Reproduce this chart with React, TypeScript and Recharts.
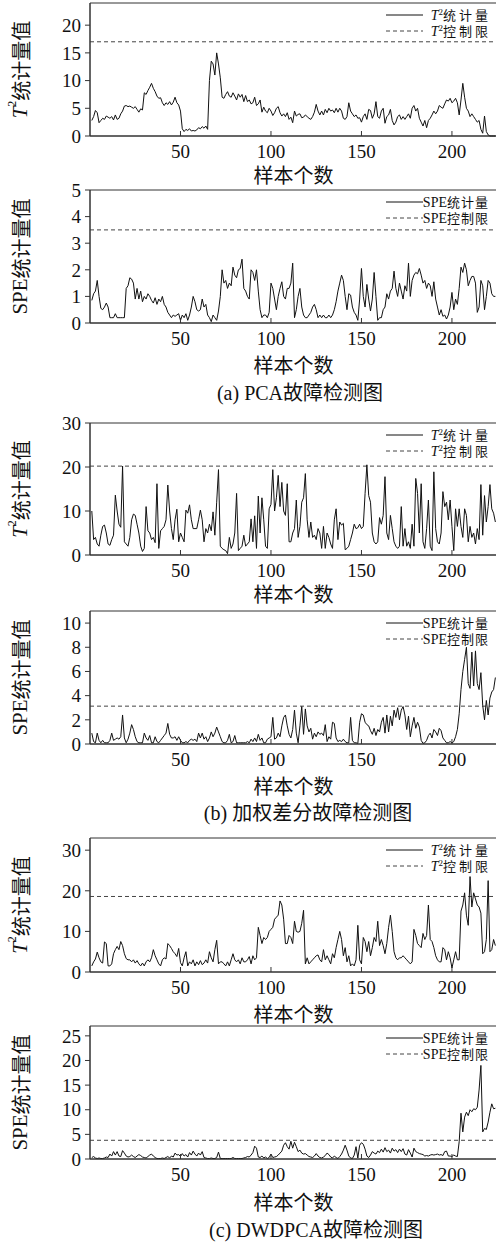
import React from "react";
import { LineChart, Line, XAxis, YAxis, ReferenceLine, ReferenceArea } from "recharts";

// sample index 1..224
const samples = Array.from({ length: 224 }, (_, i) => i + 1);
const xTicks = [50, 100, 150, 200];

// (a) PCA
const t2Pca = [
  2.8, 3.5, 4.6, 4.2, 2.4, 2.8, 3.2, 3.0, 3.6, 3.4,
  3.2, 3.5, 2.9, 3.8, 3.0, 3.2, 4.0, 4.5, 5.4, 5.5,
  5.3, 5.4, 5.2, 5.0, 5.3, 4.8, 4.3, 4.9, 4.7, 7.8,
  7.5, 8.2, 8.8, 9.5, 8.6, 8.0, 7.2, 6.8, 6.9, 6.0,
  5.5, 6.0, 5.7, 6.2, 5.6, 6.1, 7.0, 6.0, 5.6, 4.5,
  1.3, 0.8, 1.2, 1.0, 1.3, 0.9, 1.0, 0.9, 1.1, 1.5,
  1.3, 1.7, 1.4, 1.8, 1.2, 10.0, 13.5, 13.0, 11.0, 15.0,
  13.0, 10.5, 7.0, 6.8, 7.5, 8.0, 7.2, 7.0, 7.8, 7.2,
  6.5, 7.6, 7.0, 7.5, 6.2, 7.3, 6.2, 6.5, 5.8, 6.0,
  7.0, 5.5, 5.8, 6.5, 4.3, 5.2, 4.5, 4.2, 5.0, 4.5,
  3.7, 4.2, 5.0, 5.3, 4.2, 3.6, 4.0, 3.5, 4.2, 3.0,
  3.4, 2.4, 4.5, 3.6, 3.9, 4.0, 3.3, 3.4, 3.8, 3.5,
  3.2, 3.0, 3.5, 4.3, 5.7, 4.5, 3.8, 4.5, 3.8, 4.8,
  4.2, 5.0, 4.5, 4.7, 4.2, 5.0, 4.3, 5.0, 4.5, 3.2,
  3.0, 3.5, 6.0, 4.5, 4.0, 3.5, 3.8, 3.2, 3.3, 2.5,
  3.5, 4.0, 3.0, 4.8, 4.6, 3.2, 4.0, 6.2, 3.5, 3.2,
  4.5, 5.0, 2.3, 3.5, 3.8, 4.8, 2.8, 2.0, 2.5, 3.5,
  3.8, 3.0, 3.5, 3.0, 3.5, 4.0, 3.2, 5.0, 5.5, 4.5,
  5.0, 3.2, 2.5, 1.8, 2.8, 1.5, 2.8, 3.2, 3.8, 4.5,
  4.0, 4.5, 5.5, 5.2, 5.0, 5.8, 6.5, 6.3, 6.8, 6.0,
  6.3, 6.8, 6.0, 3.8, 6.5, 9.5, 7.0, 5.0, 4.5, 3.5,
  4.0, 3.5, 3.0, 2.5, 2.8, 1.2, 0.5, 3.6, 0.8, 0.2,
  0.0, 0.0, 0.0, 0.0,
];
const spePca = [
  0.85, 1.1, 1.2, 1.6, 1.0, 0.55, 0.5, 0.6, 0.75, 0.6,
  0.2, 0.2, 0.2, 0.35, 0.2, 0.2, 0.2, 0.2, 0.2, 1.3,
  1.4, 1.7, 1.65, 1.5, 0.9, 1.3, 0.9, 1.2, 0.8, 1.0,
  0.9, 1.1, 1.0, 0.85, 0.75, 0.95, 0.7, 0.9, 0.8, 1.0,
  0.7, 0.6, 0.4, 0.3, 0.2, 0.3, 0.25, 0.3, 0.35, 0.1,
  0.3, 0.2, 0.35, 0.1, 0.3, 0.6, 1.0, 0.8, 0.5, 0.45,
  0.5, 0.9, 0.6, 0.7, 0.3, 0.2, 0.05, 0.3, 0.2, 0.1,
  0.45, 1.0, 2.0, 1.5, 1.6, 1.3, 1.5, 1.4, 2.1, 1.8,
  1.7, 2.0, 2.05, 2.4, 1.3, 1.2, 1.0, 0.9, 2.0, 1.9,
  1.6, 2.0, 1.2, 0.5, 0.2, 0.3, 0.3, 0.2, 0.4, 1.5,
  1.3, 0.9, 0.5, 1.0, 1.3, 1.55, 1.0, 0.9, 1.3, 1.3,
  1.5, 2.25, 0.2, 0.5, 1.0, 1.3, 0.6, 0.3, 0.2, 0.2,
  0.3, 0.4, 0.6, 0.7, 0.5, 0.2, 0.3, 0.2, 0.3, 0.2,
  0.2, 0.3, 0.2, 0.3, 0.5, 0.8, 1.2, 1.5, 1.8, 1.6,
  1.0, 0.5, 1.1, 1.05, 0.6, 0.4, 0.3, 0.1, 0.9, 2.05,
  1.0, 0.6, 1.45, 0.9, 0.45, 0.9, 1.9, 1.0, 0.1, 0.2,
  0.2, 0.5, 0.6, 1.1, 0.9, 1.2, 1.3, 1.95, 1.3, 1.0,
  1.5, 1.2, 0.9, 1.4, 1.2, 2.25, 1.0, 1.6, 1.8, 1.9,
  1.85, 2.05, 1.8, 1.5, 1.6, 1.3, 1.5, 1.4, 1.0, 1.55,
  0.9, 0.6, 0.3, 0.5, 0.25, 0.3, 0.15, 0.3, 0.6, 1.15,
  0.5, 0.9, 0.7, 1.3, 2.1, 1.9, 2.25, 2.0, 1.4, 1.6,
  1.75, 1.75, 1.5, 0.4, 0.6, 1.6, 1.4, 0.5, 1.0, 1.6,
  1.5, 1.1, 1.0, 1.0,
];

// (b) weighted difference
const t2Wd = [
  10, 3.5, 4, 2.5, 2, 4.5, 6.5, 6.8, 5, 2.5,
  2.2, 3.5, 4.5, 13.6, 10, 7, 6.3, 20.2, 3, 2.5,
  2, 4, 8, 9.3, 9, 7, 5, 2, 0.8, 1.5,
  11, 5.5, 5, 3.5, 4, 2.8, 16.2, 1.5, 5.5, 6,
  6.5, 8, 15.9, 10, 6, 3.5, 8, 10.4, 3, 5,
  4, 3, 10.2, 9.5, 11.4, 8, 6, 6, 6, 8,
  10.2, 8, 3, 6, 5, 7, 5.5, 9.8, 4.5, 12,
  19.4, 2, 1.5, 1.2, 1.0, 0.3, 4, 1.5, 2.5, 5,
  14, 1, 1.5, 2, 4.5, 2, 2.5, 3, 8.2, 3,
  8.9, 1.5, 13.4, 5, 13, 8, 2, 1.5, 10.5, 11.5,
  19.4, 10, 13, 18.1, 11, 16.5, 10, 9, 16.2, 3,
  3, 5, 6, 12.5, 4, 6.5, 12, 13, 18.5, 8,
  4, 7.5, 4, 4.5, 3.5, 6, 5, 1.5, 6.5, 1.5,
  5, 4, 2.5, 1.5, 8, 10.5, 3.5, 7.5, 6.8, 7.2,
  1.2, 1.5, 2, 3.5, 5, 7, 6, 6.2, 7, 6,
  6.5, 14, 20.5, 13.5, 12, 5, 3, 2.5, 3, 8.5,
  7, 9, 17.8, 5, 3.5, 9, 6, 3, 2, 1.5,
  2, 11, 2, 6, 2, 3, 1.5, 7, 2, 17.4,
  14, 5, 16.2, 3, 1.5, 6, 12.5, 2, 1, 18.9,
  6, 3, 2.5, 5, 14.4, 11, 12, 8, 12.5, 6.5,
  1, 10.5, 6.5, 10.5, 6.5, 4, 10.5, 9, 3, 6.5,
  4, 5, 2.5, 6, 3.5, 16, 4.5, 13.5, 7.5, 11,
  16, 10.5, 9.5, 7.5,
];
const speWd = [
  0.9, 0.2, 0.1, 0.9, 0.3, 0.1, 0.3, 0.1, 0.1, 0.1,
  0.3, 0.9, 0.3, 0.4, 0.5, 0.4, 0.6, 2.4, 0.5, 0.1,
  0.4, 0.9, 1.6, 1.2, 0.6, 0.2, 0.1, 0.1, 0.1, 0.9,
  0.5, 0.3, 0.7, 0.1, 0.1, 0.6, 0.2, 0.1, 0.3, 0.5,
  0.7, 0.9, 1.7, 0.8, 0.5, 0.5, 0.6, 0.3, 0.6, 0.3,
  0.1, 0.1, 0.2, 0.1, 0.3, 0.4, 0.3, 0.4, 0.2, 0.9,
  0.5, 0.9, 0.4, 0.6, 0.2, 0.5, 1.0, 0.6, 0.9, 1.4,
  1.0, 0.6, 0.2, 0.1, 0.1, 0.3, 0.8, 0.1, 0.2, 0.7,
  0.1, 0.1, 0.1, 0.1, 0.1, 0.1, 0.2, 0.1, 0.4, 0.2,
  0.5, 0.2, 0.8, 0.3, 0.5, 0.1, 0.1, 0.4, 0.5, 0.6,
  2.2, 0.4, 0.5, 0.9, 0.6, 1.5, 2.2, 2.4, 1.5, 0.8,
  0.5, 1.2, 2.8, 0.9, 0.1, 1.5, 3.1, 0.8, 2.9, 1.5,
  1.0, 1.3, 0.4, 0.9, 0.6, 1.0, 0.8, 0.9, 0.7, 1.6,
  0.2, 0.6, 0.4, 1.8, 1.7, 0.5, 0.2, 0.3, 0.2, 0.4,
  0.2, 0.1, 0.1, 2.2, 0.3, 0.1, 0.1, 0.05, 1.8, 2.5,
  2.4, 1.8, 1.6, 1.5, 1.1, 0.8, 1.3, 0.7, 1.2, 1.0,
  1.8, 2.2, 0.9, 2.4, 1.0, 2.3, 1.5, 2.8, 2.2, 3.0,
  2.0, 2.8, 3.1, 2.4, 1.2, 2.3, 0.6, 1.5, 2.2, 1.3,
  1.8, 1.4, 0.3, 0.05, 0.1, 0.3, 0.7, 0.9, 0.5, 1.2,
  1.0, 0.7, 1.3, 1.1, 0.5, 0.3, 0.1, 0.1, 0.2, 0.1,
  0.2, 0.6, 1.2, 2.5, 4.5, 6.0, 7.0, 8.0, 5.0, 4.6,
  7.6, 4.8, 7.7, 5.0, 4.5, 5.9, 3.2, 2.0, 3.6, 2.4,
  3.8, 4.3, 4.5, 5.5,
];

// (c) DWDPCA
const t2Dw = [
  1.5, 2.5, 3.2, 4.9, 3.5, 2.5, 2.2, 7.4, 7.0, 1.5,
  1.5, 2.0, 4.5, 5.5, 6.3, 5.5, 7.5, 6.5, 4.5, 3.3,
  3.0, 3.0, 2.5, 3.0, 2.2, 2.8, 2.0, 1.5, 2.2, 1.5,
  2.5, 3.0, 2.5, 3.5, 5.5, 4.0, 3.0, 2.0, 1.5, 3.0,
  3.5, 3.2, 7.0, 6.5, 5.8, 5.0, 4.5, 3.8, 5.8, 2.3,
  1.5, 3.5, 5.0, 1.5, 2.5, 2.0, 3.0, 1.5, 2.5, 1.8,
  2.8, 1.8, 2.2, 3.0, 2.2, 5.0, 3.5, 2.5, 5.5, 7.8,
  2.0, 2.5, 2.5, 2.0, 1.5, 2.5, 1.5, 3.0, 4.5, 3.0,
  2.5, 3.0, 2.0, 3.5, 2.5, 2.5, 3.0, 3.8, 2.0, 4.0,
  3.0, 3.5, 11.0, 9.0, 7.0, 8.5, 8.0, 8.5, 10.0, 10.5,
  11.0, 13.0, 13.5, 14.0, 17.5, 16.5, 13.0, 7.0, 7.0, 9.0,
  8.5, 7.0, 12.5, 10.0, 9.8, 10.0, 12.0, 15.2, 2.0, 3.5,
  2.0, 2.5, 3.0, 3.5, 4.0, 4.2, 3.0, 2.5, 5.5, 3.0,
  4.0, 3.0, 2.0, 4.5, 3.5, 6.0, 8.0, 10.0, 8.0, 4.0,
  6.0, 2.5, 4.0, 1.5, 2.0, 1.5, 3.0, 11.5, 3.0, 2.0,
  8.5, 7.5, 5.0, 7.5, 4.0, 6.0, 8.5, 7.5, 12.5, 6.5,
  8.0, 6.5, 4.5, 7.0, 11.0, 14.0, 10.0, 5.0, 3.5, 3.0,
  3.5, 3.5, 4.0, 3.5, 3.0, 2.5, 2.0, 2.5, 10.5, 9.0,
  7.0, 6.5, 6.0, 9.5, 8.0, 9.0, 16.5, 8.0, 7.5, 6.0,
  4.0, 3.0, 2.5, 2.5, 6.0, 5.5, 3.0, 5.0, 3.5, 1.0,
  3.0, 5.0, 3.0, 3.0, 15.0, 16.5, 19.5, 14.0, 11.5, 23.5,
  16.0, 19.5, 18.0, 16.5, 16.0, 14.5, 4.5, 5.0, 8.0, 22.5,
  5.0, 5.5, 8.0, 6.5,
];
const speDw = [
  0.3, 0.5, 0.2, 0.1, 0.2, 0.1, 0.1, 0.2, 0.4, 0.3,
  1.0, 0.6, 1.5, 0.8, 1.5, 0.6, 0.5, 1.7, 1.2, 0.6,
  0.4, 0.5, 0.8, 0.5, 0.3, 0.6, 0.9, 0.7, 0.4, 0.3,
  0.2, 0.5, 0.8, 1.0, 0.6, 0.3, 0.1, 0.1, 0.1, 0.2,
  0.1, 0.3, 0.5, 0.2, 0.6, 0.4, 1.2, 0.8, 0.9, 0.5,
  1.1, 0.6, 0.9, 0.4, 1.3, 0.8, 1.6, 1.0, 0.6, 1.2,
  0.8, 1.5, 0.3, 0.2, 0.1, 0.1, 0.2, 0.1, 0.1, 0.3,
  1.4, 0.1, 0.1, 0.1, 0.1, 0.1, 0.1, 0.1, 0.3, 0.1,
  0.1, 0.1, 0.1, 0.1, 0.2, 0.3, 0.5, 0.4, 0.8, 1.3,
  2.6, 2.2, 0.4, 0.3, 0.6, 0.2, 0.4, 0.1, 0.3, 1.0,
  0.3, 0.4, 0.5, 0.8, 1.2, 1.6, 2.8, 3.3, 2.5, 2.0,
  3.6, 2.2, 3.4, 2.5, 1.5, 1.8, 1.2, 1.0, 1.1, 0.8,
  0.5, 0.4, 0.3, 0.6, 1.1, 0.6, 0.3, 0.2, 0.4, 0.7,
  1.2, 0.9, 0.4, 0.2, 0.6, 0.3, 0.1, 0.5, 1.0, 1.8,
  2.8, 1.8, 0.6, 0.2, 0.1, 0.8, 2.5, 0.2, 2.8, 3.3,
  3.0, 2.0, 0.6, 0.3, 0.8, 1.5, 1.2, 1.0, 1.6, 1.3,
  2.0, 1.4, 2.3, 1.5, 1.8, 1.2, 2.2, 1.6, 1.9, 1.3,
  2.0, 1.5, 2.1, 1.0, 0.8, 1.9, 1.2, 0.4, 2.2, 1.5,
  1.3, 1.1, 1.0, 0.9, 0.6, 0.7, 0.6, 0.8, 0.9, 0.8,
  0.9, 1.0, 0.8, 0.9, 0.7, 1.5, 1.6, 0.6, 0.6, 0.5,
  0.8, 0.6, 0.5, 3.5, 9.3, 5.5, 8.5, 9.5, 8.8, 10.0,
  9.6, 10.2, 10.0, 10.5, 14.0, 19.0, 5.5, 6.2, 6.0, 7.5,
  9.5, 11.2, 10.2, 10.3,
];

// control limits and y scales
const limits = [17.0, 3.5, 20.2, 3.13, 18.6, 3.8];
const yMaxes = [24, 5, 30, 11, 33, 27];
const yTickSets = [
  [0, 5, 10, 15, 20],
  [0, 1, 2, 3, 4, 5],
  [0, 10, 20, 30],
  [0, 2, 4, 6, 8, 10],
  [0, 10, 20, 30],
  [0, 5, 10, 15, 20, 25],
];
const captions = ["(a) PCA故障检测图", "(b) 加权差分故障检测图", "(c) DWDPCA故障检测图"];

const SERIF = "'Liberation Serif', 'DejaVu Serif', 'Noto Sans CJK SC', serif";
const CJK = "'Noto Sans CJK SC', sans-serif";
const INK = "#111";
const FRAME = "#333";
const X_MAX = 226;
const MT = 15;
const XH = 60;

function YLabel({ viewBox, kind }: any) {
  const cy = viewBox.y + viewBox.height / 2;
  const cx = 20;
  return (
    <text
      x={cx}
      y={cy}
      transform={`rotate(-90 ${cx} ${cy})`}
      textAnchor="middle"
      dominantBaseline="central"
      fontSize={21}
      fontFamily={SERIF}
      fill={INK}
    >
      {kind === "T2" ? (
        <>
          <tspan fontStyle="italic">T</tspan>
          <tspan fontSize={12} dy={-8}>2</tspan>
          <tspan dy={8} fontFamily={CJK} fontSize={20}>统计量值</tspan>
        </>
      ) : (
        <>
          <tspan>SPE</tspan>
          <tspan fontFamily={CJK} fontSize={20}>统计量值</tspan>
        </>
      )}
    </text>
  );
}

function XLabel({ viewBox, gapBelow }: any) {
  return (
    <text
      x={viewBox.x + viewBox.width / 2 - 1}
      y={viewBox.y + gapBelow}
      textAnchor="middle"
      dominantBaseline="central"
      fontSize={20}
      fontFamily={CJK}
      fill={INK}
    >
      样本个数
    </text>
  );
}

function LegendBox({ top, kind }: { top: number; kind: string }) {
  const isT2 = kind === "T2";
  const lineW = 37;
  const row = (dashed: boolean, word: string) => (
    <div style={{ display: "flex", alignItems: "center", justifyContent: "flex-end", height: 16 }}>
      <svg width={lineW} height={4} style={{ marginRight: isT2 ? 8 : 0 }}>
        <line x1={0} y1={2} x2={lineW} y2={2} stroke={dashed ? "#444" : INK} strokeWidth={1} strokeDasharray={dashed ? "4 3" : undefined} />
      </svg>
      <span style={{ whiteSpace: "nowrap", lineHeight: "16px" }}>
        {isT2 ? (
          <>
            <i>T</i>
            <span style={{ fontSize: 9, verticalAlign: 5, lineHeight: 0 }}>2</span>
          </>
        ) : (
          "SPE"
        )}
        <span style={{ fontFamily: CJK, fontSize: 13, letterSpacing: isT2 ? 3 : 1, lineHeight: "16px" }}>{word}</span>
      </span>
    </div>
  );
  return (
    <div
      style={{
        position: "absolute",
        top: top + 4,
        right: isT2 ? 5 : 7,
        fontFamily: SERIF,
        fontSize: 14,
        lineHeight: "16px",
        color: INK,
      }}
    >
      {row(false, "统计量")}
      {row(true, "控制限")}
    </div>
  );
}

type PanelProps = {
  top: number;
  h: number;
  series: number[];
  limit: number;
  yMax: number;
  yTicks: number[];
  kind: string;
  xLabelGap: number;
};

function Panel({ top, h, series, limit, yMax, yTicks, kind, xLabelGap }: PanelProps) {
  const rows = samples.map((s, i) => ({ s, v: series[i] }));
  const height = MT + h + XH;
  return (
    <>
      <div style={{ position: "absolute", left: 0, top: top - MT, width: 500, height }}>
        <LineChart width={500} height={height} data={rows} margin={{ top: MT, right: 1, bottom: 0, left: 0 }}>
          <XAxis
            dataKey="s"
            type="number"
            domain={[0, X_MAX]}
            ticks={xTicks}
            interval={0}
            height={XH}
            tickSize={-5}
            tickMargin={14}
            axisLine={{ stroke: FRAME }}
            tickLine={{ stroke: FRAME }}
            tick={{ fill: INK, fontSize: 19, fontFamily: SERIF }}
            label={<XLabel gapBelow={xLabelGap} />}
          />
          <YAxis
            type="number"
            domain={[0, yMax]}
            ticks={yTicks}
            interval={0}
            width={90}
            tickSize={5}
            tickMargin={4}
            axisLine={{ stroke: FRAME }}
            tickLine={{ stroke: FRAME }}
            tick={{ fill: INK, fontSize: 19, fontFamily: SERIF }}
            label={<YLabel kind={kind} />}
          />
          <ReferenceArea x1={0} x2={X_MAX} y1={0} y2={yMax} fill="none" stroke={FRAME} strokeWidth={1} />
          <ReferenceLine y={limit} stroke="#444" strokeWidth={1} strokeDasharray="4 3" />
          <Line
            dataKey="v"
            type="linear"
            stroke={INK}
            strokeWidth={1}
            dot={false}
            activeDot={false}
            isAnimationActive={false}
          />
        </LineChart>
      </div>
      <LegendBox top={top} kind={kind} />
    </>
  );
}

function Caption({ text, cx, cy }: { text: string; cx: number; cy: number }) {
  return (
    <div
      style={{
        position: "absolute",
        left: cx - 150,
        width: 300,
        top: cy - 12,
        height: 24,
        lineHeight: "24px",
        textAlign: "center",
        fontFamily: SERIF,
        fontSize: 20,
        color: INK,
        whiteSpace: "nowrap",
      }}
    >
      {text}
    </div>
  );
}

export default function App() {
  const series = [t2Pca, spePca, t2Wd, speWd, t2Dw, speDw];
  const kinds = ["T2", "SPE", "T2", "SPE", "T2", "SPE"];
  const tops = [3, 190, 423, 611, 838, 1026];
  const heights = [133, 133, 132, 133, 134, 133];
  const xGaps = [38, 41, 38, 41, 41, 42];
  return (
    <div
      style={{
        position: "absolute",
        left: 0,
        top: 0,
        width: 496,
        height: 1243,
        overflow: "hidden",
        background: "#fff",
      }}
    >
      {series.map((d, i) => (
        <Panel
          key={i}
          top={tops[i]}
          h={heights[i]}
          series={d}
          limit={limits[i]}
          yMax={yMaxes[i]}
          yTicks={yTickSets[i]}
          kind={kinds[i]}
          xLabelGap={xGaps[i]}
        />
      ))}
      <Caption text={captions[0]} cx={300} cy={393} />
      <Caption text={captions[1]} cx={308} cy={813} />
      <Caption text={captions[2]} cx={316} cy={1230} />
    </div>
  );
}
